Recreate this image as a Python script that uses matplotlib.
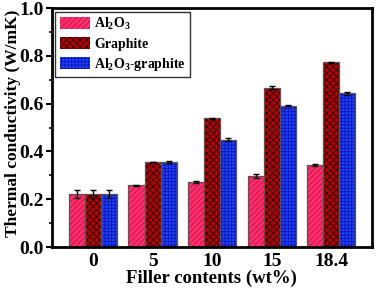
import numpy as np
import matplotlib.pyplot as plt

plt.rcParams['font.family'] = ['Liberation Serif', 'DejaVu Serif']
plt.rcParams['font.weight'] = 'bold'
plt.rcParams['mathtext.fontset'] = 'custom'
plt.rcParams['mathtext.rm'] = 'Liberation Serif:bold'
plt.rcParams['mathtext.default'] = 'rm'
plt.rcParams['hatch.linewidth'] = 0.6

categories = ['0', '5', '10', '15', '18.4']
al2o3 = [0.222, 0.258, 0.273, 0.298, 0.344]
al2o3_err = [0.015, 0.002, 0.003, 0.008, 0.005]
graphite = [0.222, 0.356, 0.540, 0.666, 0.773]
graphite_err = [0.015, 0.002, 0.002, 0.006, 0.002]
hybrid = [0.222, 0.356, 0.450, 0.591, 0.643]
hybrid_err = [0.015, 0.003, 0.005, 0.002, 0.005]

fig = plt.figure(figsize=(3.76, 2.9), dpi=100)
ax = fig.add_axes([0.138, 0.148, 0.851, 0.824])

x = np.arange(len(categories))
w = 0.27
ekw = dict(ecolor='black', capsize=2.5, elinewidth=1, capthick=1)
series = [
    (al2o3, al2o3_err, '#ff2e6a', '#c0104a', '//////', r'Al$_2$O$_3$', -w),
    (graphite, graphite_err, '#b80000', '#1a0000', 'xxxxx', 'Graphite', 0),
    (hybrid, hybrid_err, '#2040ff', '#0818b0', '+++++', r'Al$_2$O$_3$-graphite', w),
]
for vals, err, fc, hc, hatch, lab, off in series:
    ax.bar(x + off, vals, w, color=fc, edgecolor=hc, hatch=hatch,
           linewidth=0, label=lab)
    ax.bar(x + off, vals, w, yerr=err, fill=False, edgecolor='#555555',
           linewidth=0.9, error_kw=ekw)

ax.set_xlim(-0.69, 4.68)
ax.set_ylim(0, 1.0)
ax.set_xticks(x, categories)
ax.set_yticks([0, 0.2, 0.4, 0.6, 0.8, 1.0], ['0.0', '0.2', '0.4', '0.6', '0.8', '1.0'])
ax.set_yticks(np.arange(0.1, 1.0, 0.2), minor=True)
ax.tick_params(axis='both', labelsize=14, width=1.5, length=4, direction='out', pad=2)
ax.tick_params(axis='y', which='minor', width=1.2, length=2.5, direction='out')
ax.tick_params(axis='x', length=0, pad=4)
for s in ax.spines.values():
    s.set_linewidth(2)

ax.set_xlabel('Filler contents (wt%)', fontsize=13.5, fontweight='bold', labelpad=0)
ax.set_ylabel('Thermal conductivity (W/mK)', fontsize=12.5, fontweight='bold')
ax.yaxis.set_label_coords(-0.097, 0.52)

leg = ax.legend(loc='upper left', fontsize=10, frameon=True, fancybox=False,
                edgecolor='black', borderaxespad=0.25, handlelength=2.2,
                handleheight=1.0, labelspacing=0.35, borderpad=0.3, handletextpad=0.3)
leg.get_frame().set_linewidth(1)
for t in leg.get_texts():
    t.set_fontweight('bold')

fig.savefig('out.png', dpi=100)
